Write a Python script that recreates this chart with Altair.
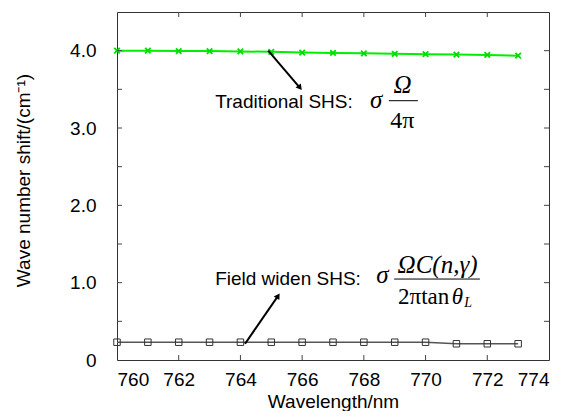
import altair as alt
import pandas as pd

# ---- data ----
wavelength = [760, 761, 762, 763, 764, 765, 766, 767, 768, 769, 770, 771, 772, 773]
traditional = [4.00, 4.00, 3.995, 3.995, 3.99, 3.985, 3.975, 3.97, 3.965, 3.96, 3.955, 3.95, 3.945, 3.935]
field_widen = [0.23, 0.23, 0.23, 0.23, 0.23, 0.23, 0.23, 0.23, 0.23, 0.23, 0.23, 0.21, 0.21, 0.21]

x_ticks = [760, 762, 764, 766, 768, 770, 772, 774]
x_inner_ticks = [762, 764, 766, 768, 770, 772]
y_label_ticks = [0, 1, 2, 3, 4]
y_inner_ticks = [0.5, 1.0, 1.5, 2.0, 2.5, 3.0, 3.5, 4.0]

# annotation anchors (data units)
arrow_x1 = [764.9, 764.15]
arrow_y1 = [4.0, 0.21]
arrow_x2 = [765.93, 765.22]
arrow_y2 = [3.52, 0.83]
arrow_angle = [322, 33]
arrow_shape = ["triangle-down", "triangle-up"]

label_text = ["Traditional SHS:", "Field widen SHS:"]
label_x = [763.18, 763.18]
label_y = [3.263, 0.97]

W, H = 432, 348
X_DOM = [760, 774]
Y_DOM = [0, 4.5]
SANS = "Liberation Sans"
SERIF = "Liberation Serif"

xs = alt.Scale(domain=X_DOM, nice=False, zero=False)
ys = alt.Scale(domain=Y_DOM, nice=False, zero=False)

df_t = pd.DataFrame({"x": wavelength, "y": traditional})
df_f = pd.DataFrame({"x": wavelength, "y": field_widen})

x_axis = alt.Axis(values=x_ticks, grid=False, ticks=False, domain=False,
                  labelFont=SANS, labelFontSize=19, labelColor="black", labelPadding=10,
                  labelFontWeight="normal", title="Wavelength/nm", titleFont=SANS,
                  titleFontSize=19, titleFontWeight="normal", titleColor="black",
                  titleY=47, titleBaseline="alphabetic")
y_axis = alt.Axis(values=y_label_ticks, grid=False, ticks=False, domain=False,
                  labelExpr="datum.value == 0 ? '0' : format(datum.value, '.1f')",
                  labelFont=SANS, labelFontSize=19, labelColor="black", labelPadding=21,
                  title="Wave number shift/(cm⁻¹)", titleFont=SANS, titleFontSize=19,
                  titleFontWeight="normal", titleColor="black",
                  titleX=-94, titleY=168, titleAngle=270, titleAlign="center",
                  titleBaseline="middle")

def X(field="x"):
    return alt.X(f"{field}:Q", scale=xs, axis=x_axis)

def Y(field="y"):
    return alt.Y(f"{field}:Q", scale=ys, axis=y_axis)

green_line = alt.Chart(df_t).mark_line(color="#00ee00", strokeWidth=2).encode(
    x=X(), y=Y())
green_pts = alt.Chart(df_t).mark_point(
    shape="M-1,-1L1,1M1,-1L-1,1", size=30, filled=False, stroke="#00dd00",
    strokeWidth=1.8, opacity=1).encode(x=X(), y=Y())

black_line = alt.Chart(df_f).mark_line(color="#555555", strokeWidth=1.4).encode(x=X(), y=Y())
black_pts = alt.Chart(df_f).mark_point(
    shape="square", size=42, filled=False, stroke="#333333", strokeWidth=1,
    opacity=1).encode(x=X(), y=Y())

# ticks drawn inward on all four sides
df_xt = pd.DataFrame({"x": x_inner_ticks})
df_yt = pd.DataFrame({"y": y_inner_ticks})
tick_col = "#444444"
bot_ticks = alt.Chart(df_xt).mark_rule(color=tick_col, strokeWidth=1).encode(
    x=X(), y=alt.value(H), y2=alt.value(H - 5))
top_ticks = alt.Chart(df_xt).mark_rule(color=tick_col, strokeWidth=1).encode(
    x=X(), y=alt.value(0), y2=alt.value(5))
left_ticks = alt.Chart(df_yt).mark_rule(color=tick_col, strokeWidth=1).encode(
    y=Y(), x=alt.value(0), x2=alt.value(5))
right_ticks = alt.Chart(df_yt).mark_rule(color=tick_col, strokeWidth=1).encode(
    y=Y(), x=alt.value(W), x2=alt.value(W - 5))

# arrows
df_arr = pd.DataFrame({"x1": arrow_x1, "y1": arrow_y1, "x2": arrow_x2, "y2": arrow_y2,
                       "ang": arrow_angle, "shape": arrow_shape})
arrow_lines = alt.Chart(df_arr).mark_rule(color="black", strokeWidth=2).encode(
    x=X("x1"), y=Y("y1"), x2="x2:Q", y2="y2:Q")
arrow_heads = alt.Chart(df_arr).mark_point(filled=True, color="black", size=45, opacity=1).encode(
    x=X("x2"), y=Y("y2"),
    shape=alt.Shape("shape:N", scale=None, legend=None),
    angle=alt.Angle("ang:Q", scale=None))

# text labels
df_lab = pd.DataFrame({"t": label_text, "x": label_x, "y": label_y})
labels = alt.Chart(df_lab).mark_text(font=SANS, fontSize=19, align="left",
                                     baseline="alphabetic", color="black").encode(
    x=X(), y=Y(), text="t:N")

# formulas
f_italic = pd.DataFrame({
    "t": ["σ", "Ω", "σ", "ΩC(n,γ)"],
    "x": [768.4, 769.25, 768.6, 770.39],
    "y": [3.26, 3.453, 0.996, 1.125],
})
f_regular = pd.DataFrame({
    "t": ["4π"],
    "x": [769.25],
    "y": [3.0],
})
f_den = pd.DataFrame({"t": ["2πtan"], "x": [769.11], "y": [0.724]})
f_theta = pd.DataFrame({"t": ["θ"], "x": [770.85], "y": [0.724]})
f_sub = pd.DataFrame({"t": ["L"], "x": [771.25], "y": [0.685]})
bars = pd.DataFrame({"x1": [768.81, 768.98], "x2": [769.75, 771.76], "y": [3.353, 1.047]})

t_italic = alt.Chart(f_italic).mark_text(font=SERIF, fontSize=25, fontStyle="italic",
                                         align="center", baseline="alphabetic", color="black").encode(
    x=X(), y=Y(), text="t:N")
t_regular = alt.Chart(f_regular).mark_text(font=SERIF, fontSize=24, align="center",
                                           baseline="alphabetic", color="black").encode(
    x=X(), y=Y(), text="t:N")
t_den = alt.Chart(f_den).mark_text(font=SERIF, fontSize=23, align="left",
                                   baseline="alphabetic", color="black").encode(
    x=X(), y=Y(), text="t:N")
t_theta = alt.Chart(f_theta).mark_text(font=SERIF, fontSize=23, fontStyle="italic", align="left",
                                       baseline="alphabetic", color="black").encode(
    x=X(), y=Y(), text="t:N")
t_sub = alt.Chart(f_sub).mark_text(font=SERIF, fontSize=14, fontStyle="italic", align="left",
                                   baseline="alphabetic", color="black").encode(
    x=X(), y=Y(), text="t:N")
frac_bars = alt.Chart(bars).mark_rule(color="black", strokeWidth=1).encode(
    x=X("x1"), x2="x2:Q", y=Y())

chart = alt.layer(
    green_line, black_line, black_pts, green_pts,
    bot_ticks, top_ticks, left_ticks, right_ticks,
    arrow_lines, arrow_heads, labels,
    t_italic, t_regular, t_den, t_theta, t_sub, frac_bars,
).properties(
    width=W, height=H,
    autosize=alt.AutoSizeParams(type="none"),
    padding={"left": 109, "top": 4, "right": 5, "bottom": 51},
    background="white",
).configure_view(stroke="#333333", strokeWidth=1)

chart.save("out.html", embed_options={"renderer": "svg", "actions": False})
